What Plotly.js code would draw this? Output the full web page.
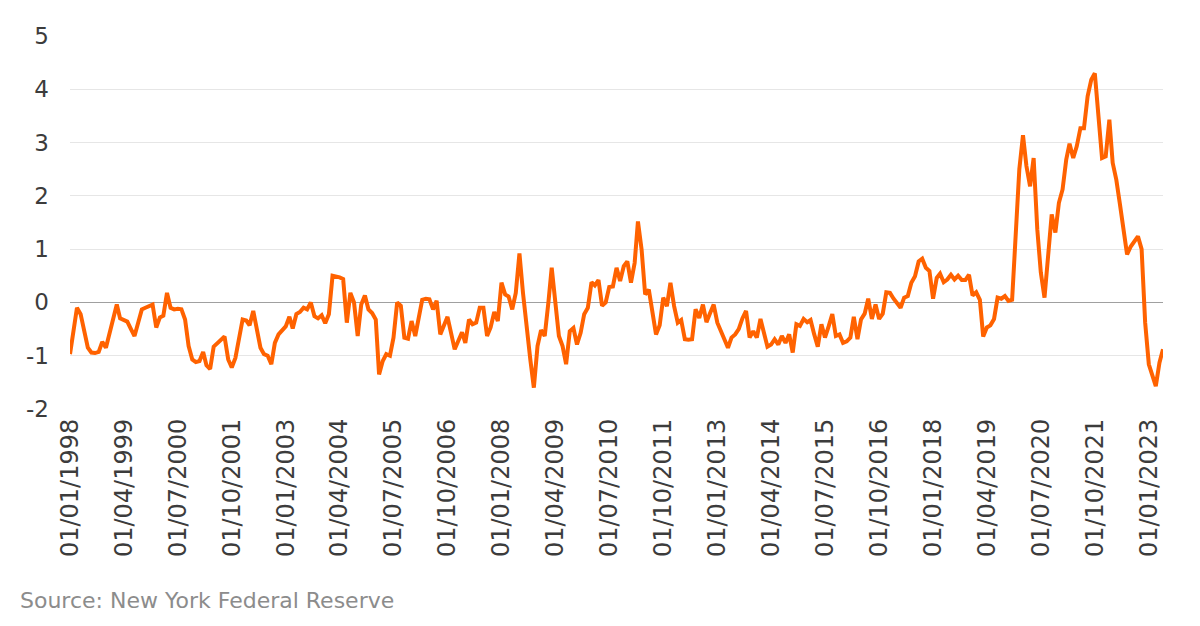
<!DOCTYPE html>
<html>
<head>
<meta charset="utf-8">
<script src="https://cdn.plot.ly/plotly-3.0.1.min.js"></script>
<style>
  html, body { margin: 0; padding: 0; background: #ffffff; }
  #chart { width: 1200px; height: 626px; }
</style>
</head>
<body>
<div id="chart"></div>
<script>
// Monthly series, first month and count
const startYear = 1998;
const startMonth = 1;
const sourceText = "Source: New York Federal Reserve";

// Values, one per month from Jan 1998 to May 2023
const values = [
  -0.97, -0.45, -0.1, -0.22, -0.55, -0.85, -0.94, -0.95, -0.93, -0.74,
  -0.85, -0.6, -0.3, -0.04, -0.3, -0.33, -0.36, -0.5, -0.63, -0.38,
  -0.13, -0.1, -0.06, -0.04, -0.47, -0.28, -0.25, 0.18, -0.1, -0.13,
  -0.12, -0.13, -0.32, -0.82, -1.07, -1.12, -1.1, -0.93, -1.18, -1.25,
  -0.83, -0.76, -0.7, -0.64, -1.07, -1.22, -1.04, -0.68, -0.32, -0.34,
  -0.43, -0.16, -0.47, -0.85, -0.97, -1.0, -1.16, -0.76, -0.6, -0.53,
  -0.45, -0.27, -0.49, -0.22, -0.18, -0.1, -0.13, 0.0, -0.26, -0.3,
  -0.24, -0.39, -0.22, 0.5, 0.49, 0.47, 0.44, -0.38, 0.18, 0.0,
  -0.63, -0.04, 0.13, -0.13, -0.2, -0.32, -1.35, -1.1, -0.97, -1.0,
  -0.66, 0.0, -0.06, -0.66, -0.68, -0.35, -0.63, -0.22, 0.05, 0.07,
  0.06, -0.13, 0.03, -0.6, -0.45, -0.27, -0.58, -0.88, -0.72, -0.56,
  -0.76, -0.32, -0.41, -0.38, -0.1, -0.1, -0.63, -0.47, -0.18, -0.35,
  0.37, 0.15, 0.11, -0.13, 0.18, 0.92, 0.18, -0.5, -1.07, -1.6,
  -0.82, -0.52, -0.63, 0.0, 0.65, 0.0, -0.63, -0.82, -1.16, -0.54,
  -0.48, -0.79, -0.57, -0.22, -0.1, 0.38, 0.32, 0.42, -0.06, 0.0,
  0.29, 0.3, 0.65, 0.4, 0.68, 0.77, 0.37, 0.74, 1.52, 0.99,
  0.15, 0.24, -0.13, -0.6, -0.43, 0.09, -0.07, 0.37, -0.07, -0.38,
  -0.33, -0.69, -0.7, -0.69, -0.13, -0.29, -0.04, -0.37, -0.2, -0.04,
  -0.38, -0.54, -0.7, -0.85, -0.66, -0.6, -0.5, -0.3, -0.16, -0.66,
  -0.54, -0.66, -0.31, -0.57, -0.83, -0.79, -0.69, -0.79, -0.63, -0.76,
  -0.6, -0.94, -0.41, -0.44, -0.31, -0.37, -0.33, -0.6, -0.83, -0.41,
  -0.66, -0.45, -0.22, -0.63, -0.6, -0.76, -0.73, -0.66, -0.27, -0.69,
  -0.32, -0.21, 0.07, -0.31, -0.04, -0.31, -0.21, 0.19, 0.18, 0.07,
  -0.02, -0.1, 0.09, 0.12, 0.37, 0.49, 0.77, 0.82, 0.65, 0.59,
  0.07, 0.46, 0.54, 0.38, 0.43, 0.52, 0.43, 0.5, 0.42, 0.42,
  0.52, 0.13, 0.19, 0.05, -0.64, -0.47, -0.43, -0.31, 0.09, 0.07,
  0.12, 0.03, 0.05, 1.2, 2.5, 3.14, 2.56, 2.18, 2.71, 1.37,
  0.56, 0.09, 0.87, 1.65, 1.31, 1.87, 2.12, 2.68, 2.98, 2.71,
  2.93, 3.27, 3.27, 3.87, 4.18, 4.3, 3.49, 2.71, 2.74, 3.43,
  2.62, 2.3, 1.85, 1.35, 0.9, 1.05, 1.15, 1.24, 1.0, -0.38,
  -1.16, -1.35, -1.57, -1.13, -0.88
];

// Month dates (first of each month)
const dates = [];
for (let i = 0; i < values.length; i++) {
  const m0 = (startMonth - 1) + i;
  const y = startYear + Math.floor(m0 / 12);
  const m = (m0 % 12) + 1;
  dates.push(y + "-" + String(m).padStart(2, "0") + "-01");
}

const yTickVals = [-2, -1, 0, 1, 2, 3, 4, 5];

const fontFamily = "'DejaVu Sans', 'Noto Sans', sans-serif";

const trace = {
  x: dates,
  y: values,
  type: "scatter",
  mode: "lines",
  line: { color: "#FF6200", width: 4 },
  hoverinfo: "x+y"
};

const layout = {
  width: 1200,
  height: 626,
  margin: { l: 70, r: 37, t: 36, b: 217 },
  paper_bgcolor: "#ffffff",
  plot_bgcolor: "#ffffff",
  showlegend: false,
  font: { family: fontFamily, color: "#3c3c3c" },
  xaxis: {
    type: "date",
    range: [dates[0], dates[dates.length - 1]],
    tick0: dates[0],
    dtick: "M15",
    tickformat: "%d/%m/%Y",
    tickangle: -90,
    tickfont: { size: 24, color: "#3c3c3c", family: fontFamily },
    showgrid: false,
    zeroline: false,
    showline: false,
    ticks: "",
    ticklabelstandoff: 4
  },
  yaxis: {
    range: [-2, 5],
    tickvals: yTickVals,
    ticktext: yTickVals.map(String),
    tickfont: { size: 23, color: "#3c3c3c", family: fontFamily },
    showgrid: true,
    gridcolor: "#e6e6e6",
    gridwidth: 1,
    zeroline: true,
    zerolinecolor: "#a0a0a0",
    zerolinewidth: 1,
    showline: false,
    ticks: "",
    ticklabelstandoff: 20
  },
  annotations: [{
    text: sourceText,
    xref: "paper", yref: "paper",
    x: (18 - 70) / 1093, y: (409 - 600) / 373,
    xanchor: "left", yanchor: "middle",
    showarrow: false,
    font: { size: 22, color: "#8c8c8c", family: fontFamily }
  }]
};

Plotly.newPlot("chart", [trace], layout, { displayModeBar: false, staticPlot: true });
</script>
</body>
</html>
